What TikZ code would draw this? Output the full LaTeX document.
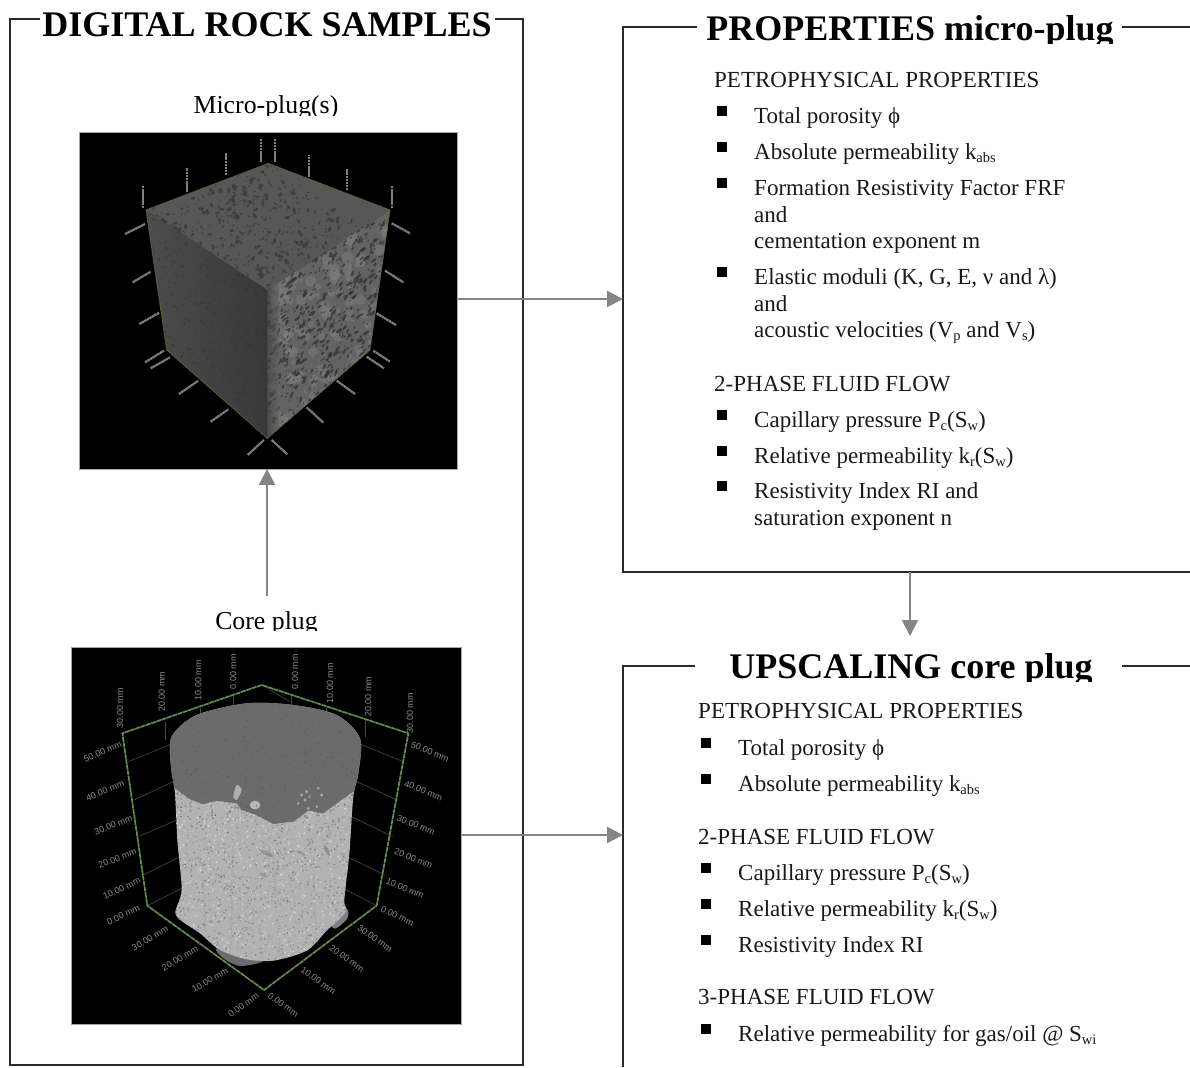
\documentclass[tikz,border=0pt]{standalone}
\usepackage{fontspec}
\setmainfont{Liberation Serif}
\newfontfamily\axfont{Liberation Sans}
\usetikzlibrary{arrows.meta}
\definecolor{framec}{HTML}{2A2A2A}
\definecolor{arrowc}{HTML}{858585}
\definecolor{boxgreen}{HTML}{6A8A50}
\newcommand{\sbs}[1]{\raisebox{-0.3ex}{\fontsize{14.5}{14.5}\selectfont #1}}
\tikzset{
  frame/.style={draw=framec,line width=1.7pt},
  flow/.style={draw=arrowc,line width=2pt,-{Triangle[length=16pt,width=16pt]}},
  imagebox/.style={rectangle,fill=black,draw=gray!70,line width=.5pt,inner sep=0pt,outer sep=0pt},
  maintitle/.style={anchor=base,inner sep=0pt,font=\fontsize{36}{36}\selectfont\bfseries},
  sidelabel/.style={anchor=base,inner sep=0pt,font=\fontsize{25.8}{25.8}\selectfont},
  txt/.style={anchor=base west,inner sep=0pt,yshift=-0.8pt,font=\fontsize{23}{23}\selectfont,text=black!90},
  bul/.style={rectangle,fill=black,minimum size=10pt,inner sep=0pt,outer sep=0pt},
  axlab/.style={inner sep=0pt,text=black!45,font=\axfont\fontsize{9}{9}\selectfont},
}
\begin{document}
\begin{tikzpicture}[x=1pt,y=-1pt]
\useasboundingbox (0,0) rectangle (1190,1067);
\fill[white] (0,0) rectangle (1190,1067);
\clip (0,0) rectangle (1190,1067);

% ---------- image frames
\node[imagebox,minimum width=378.7pt,minimum height=336.3pt] (micro) at (268.3,300.8) {};
\node[imagebox,minimum width=390pt,minimum height=377pt] (core) at (266.7,835.8) {};

% ---------- micro-plug cube (zoom coordinates)
\begin{scope}[shift={(60,120)},x=0.33333pt,y=-0.33333pt]
  \foreach \ax/\ay/\bx/\by in {
    250/265/250/198, 382/215/382/145, 498/165/498/98, 602/125/602/58, 645/125/645/58,
    748/170/748/105, 862/210/862/148, 995/265/995/198,
    195/342/255/312, 218/487/272/455, 238/612/298/578, 255/727/312/692, 272/745/330/712,
    357/822/415/782, 452/905/505/868, 563/1005/612/960,
    995/310/1050/340, 975/452/1030/487, 950/580/1008/615, 940/692/990/725, 920/710/972/745,
    830/782/885/822, 740/862/790/908, 635/960/682/1003}
    {\draw[draw=black!50,line width=2.2pt,dash pattern=on 2.4pt off .5pt] (\ax,\ay) -- (\bx,\by);}
  % faces
  \shade[left color=black!70,right color=black!78]
     (258,270) -- (622,510) -- (622,955) -- (320,690) -- cycle;
  \fill[black!66] (625,130) -- (990,270) -- (622,510) -- (258,270) -- cycle;
  \fill[black!61] (622,510) -- (990,270) -- (930,690) -- (622,955) -- cycle;
  \pgfmathsetseed{7}
  \begin{scope}
    \clip (625,130) -- (990,270) -- (622,510) -- (258,270) -- cycle;
    \foreach \i in {1,...,420}{
      \pgfmathsetmacro\u{rnd}\pgfmathsetmacro\v{rnd}
      \pgfmathsetmacro\rr{2+6*rnd*rnd}\pgfmathsetmacro\ang{rnd*180}
      \fill[black!80,opacity=.6] ({258+367*\u+364*\v},{270-140*\u+240*\v}) ellipse [x radius=\rr*1.5,y radius=\rr*.8,rotate=\ang];
    }
  \end{scope}
  \begin{scope}
    \clip (622,510) -- (990,270) -- (930,690) -- (622,955) -- cycle;
    \foreach \i in {1,...,130}{
      \pgfmathsetmacro\u{rnd}\pgfmathsetmacro\v{rnd}
      \pgfmathsetmacro\rr{6+12*rnd}
      \fill[black!50,opacity=.45] ({622+368*\u},{510-240*\u+445*\v}) circle [radius=\rr];
    }
    \foreach \i in {1,...,620}{
      \pgfmathsetmacro\u{rnd}\pgfmathsetmacro\v{rnd}
      \pgfmathsetmacro\rr{2+5*rnd*rnd}\pgfmathsetmacro\ang{25+50*rnd}
      \fill[black!80,opacity=.75] ({622+368*\u},{510-240*\u+445*\v}) ellipse [x radius=\rr*2,y radius=\rr*.8,rotate=\ang];
    }
    \shade[left color=black!75,right color=black!61,opacity=.6] (622,480) rectangle (655,960);
  \end{scope}
  \begin{scope}
    \clip (258,270) -- (622,510) -- (622,955) -- (320,690) -- cycle;
    \foreach \i in {1,...,260}{
      \pgfmathsetmacro\u{rnd}\pgfmathsetmacro\v{rnd}
      \pgfmathsetmacro\rr{1.5+3*rnd}
      \fill[black!82,opacity=.4] ({258+364*\u+62*\v},{270+240*\u+420*\v+25*\u*\v}) circle [radius=\rr];
    }
  \end{scope}
  \draw[boxgreen!80!black,line width=.9pt,dash pattern=on 1.3pt off .7pt]
    (625,130) -- (990,270) -- (930,690) -- (622,955) -- (320,690) -- (258,270) -- cycle;
\end{scope}

% ---------- core plug (zoom coordinates)
\begin{scope}[shift={(60,640)},x=0.33333pt,y=-0.33333pt]
  % back walls
  \foreach \ax/\ay/\bx/\by in {
    205/365/340/310, 222/480/340/425, 235/590/350/540, 250/705/360/650, 262/797/365/745,
    1030/365/895/310, 1012/480/890/425, 998/590/875/530, 975/705/860/650, 950/797/850/745,
    315/245/315/300, 420/205/420/240, 520/165/520/200, 695/165/695/200, 800/205/800/230, 915/240/915/290,
    605/135/690/185}
    {\draw[black!72,line width=.6pt] (\ax,\ay) -- (\bx,\by);}
  \draw[boxgreen,line width=1.7pt,dash pattern=on 5pt off .6pt]
    (605,135) -- (187,280) -- (262,797) -- (612,1050) -- (950,797) -- (1045,280) -- cycle;
  % feet
  \fill[black!58] plot[smooth cycle] coordinates {(470,925) (560,925) (610,962) (540,978) (490,955)};
  \fill[black!50] plot[smooth cycle] coordinates {(810,840) (860,808) (862,835) (825,866)};
  % body
  \def\bodypath{plot[smooth cycle,tension=.5] coordinates {(335,290) (410,225) (560,190) (700,195) (830,225) (900,295) (895,400) (880,470) (868,640) (853,780) (858,815) (800,872) (740,932) (640,962) (560,958) (480,930) (420,880) (348,825) (365,750) (352,600) (345,460) (333,380)}}
  \fill[black!30] \bodypath;
  \begin{scope}
    \clip \bodypath;
    \pgfmathsetseed{11}
    \foreach \i in {1,...,2800}{
      \pgfmathsetmacro\px{335+565*rnd}\pgfmathsetmacro\py{420+550*rnd}
      \pgfmathsetmacro\gr{int(14+38*rnd)}
      \fill[black!\gr] (\px,\py) circle [radius=2.8];
    }
    \foreach \ax/\ay/\bx/\by in {430/720/440/930, 520/600/510/950, 640/640/660/950, 760/700/770/930}
      {\draw[black!42,opacity=.2,line width=2pt] (\ax,\ay) -- (\bx,\by);}
    \fill[black!52,opacity=.6] (620,640) ellipse [x radius=22,y radius=6,rotate=-25];
    \fill[black!52,opacity=.6] (800,630) ellipse [x radius=18,y radius=6,rotate=-60];
    \fill[black!52,opacity=.45] (725,640) ellipse [x radius=14,y radius=4,rotate=-30];
    \fill[black!52,opacity=.45] (610,705) ellipse [x radius=14,y radius=4,rotate=-30];
    % dark upper part
    \fill[black!58] (320,170) -- (910,170) -- (910,450) -- (880,455) -- (830,490) -- (790,520) -- (745,512) -- (700,545) -- (640,552) -- (590,525) -- (545,510) -- (530,490) -- (470,482) -- (430,492) -- (390,478) -- (345,445) -- (320,440) -- cycle;
    \fill[black!32] plot[smooth cycle] coordinates {(530,435) (545,450) (530,480) (520,470)};
    \fill[black!28] (585,495) ellipse [x radius=16,y radius=13];
    \foreach \qx/\qy in {725/465,740/455,750/470,735/480,775/445,785/465,715/490,745/505,770/500}
      {\fill[black!35] (\qx,\qy) circle [radius=5];}
    \pgfmathsetseed{5}
    \foreach \i in {1,...,260}{
      \pgfmathsetmacro\px{335+565*rnd}\pgfmathsetmacro\py{190+340*rnd}
      \fill[black!66,opacity=.6] (\px,\py) circle [radius=2.6];
    }
  \end{scope}
  % axis labels
  \foreach \lx/\ly/\rot/\lab/\idx in {
    128/335/22/50.00 mm/a, 135/452/22/40.00 mm/b, 160/555/22/30.00 mm/c, 172/655/22/20.00 mm/d, 185/745/25/10.00 mm/e, 190/825/25/0.00 mm/f,
    1110/335/-22/50.00 mm/g, 1090/452/-22/40.00 mm/h, 1068/555/-22/30.00 mm/i, 1060/655/-22/20.00 mm/j, 1035/745/-22/10.00 mm/k, 1012/828/-25/0.00 mm/l,
    270/895/30/30.00 mm/m, 360/955/30/20.00 mm/n, 450/1020/30/10.00 mm/o, 550/1095/35/0.00 mm/p,
    670/1095/-35/0.00 mm/q, 775/1022/-35/10.00 mm/r, 860/955/-35/20.00 mm/s, 945/895/-35/30.00 mm/t,
    180/205/90/30.00 mm/u, 305/155/90/20.00 mm/v, 415/120/90/10.00 mm/w, 520/95/90/0.00 mm/x,
    705/95/90/0.00 mm/y, 810/130/90/10.00 mm/z, 925/170/90/20.00 mm/aa, 1050/220/90/30.00 mm/ab}
    {\node[axlab,rotate=\rot] (ax\idx) at (\lx,\ly) {\lab};}
\end{scope}

% ---------- left frame
\begin{scope}
  \clip (0,0) rectangle (1190,38);
  \node[maintitle] (digital) at (267,37) {DIGITAL ROCK SAMPLES};
\end{scope}
\coordinate (dtl) at (10,19);
\coordinate (dtr) at (523,19);
\coordinate (dbl) at (10,1065);
\coordinate (dbr) at (523,1065);
\draw[frame] (40,19) -- (dtl) -- (dbl) -- (dbr) -- (dtr) -- (495,19);

\begin{scope}
  \clip (0,90) rectangle (600,116);
  \node[sidelabel] (mlabel) at (266,114) {Micro-plug(s)};
\end{scope}
\begin{scope}
  \clip (0,600) rectangle (600,630);
  \node[sidelabel] (clabel) at (266.5,629) {Core plug};
\end{scope}

% ---------- properties frame
\begin{scope}
  \clip (600,0) rectangle (1190,44);
  \node[maintitle] (prop) at (910,41) {PROPERTIES micro-plug};
\end{scope}
\coordinate (ptl) at (623,27);
\coordinate (pbl) at (623,572);
\coordinate (pbr) at (1190,572);
\coordinate (ptr) at (1190,27);
\coordinate (pin) at (623,299);
\coordinate (pbot) at (910,572);
\draw[frame] (697,27) -- (ptl) -- (pbl) -- (pbr);
\draw[frame] (1122,27) -- (ptr);

% ---------- upscaling frame
\begin{scope}
  \clip (600,640) rectangle (1190,681);
  \node[maintitle] (upsc) at (911,678) {UPSCALING core plug};
\end{scope}
\coordinate (utl) at (623,666);
\coordinate (ubl) at (623,1067);
\coordinate (utr) at (1190,666);
\coordinate (uin) at (623,835);
\coordinate (utop) at (910,636);
\draw[frame] (695,666) -- (utl) -- (ubl);
\draw[frame] (1122,666) -- (utr);

% ---------- connectors
\coordinate (m1) at (458,299);
\coordinate (c1) at (462,835);
\coordinate (c2) at (267,596);
\draw[flow] (m1) -- (pin);
\draw[flow] (c1) -- (uin);
\draw[flow] (c2) -- (micro.south -| c2);
\draw[flow] (pbot) -- (utop);

% ---------- properties text
\node[txt] (p0) at (714,87) {PETROPHYSICAL PROPERTIES};
\node[bul] (pb1) at (721.5,111) {};
\node[txt] (p1) at (754,123) {Total porosity ϕ};
\node[bul] (pb2) at (721.5,147) {};
\node[txt] (p2) at (754,159) {Absolute permeability k\sbs{abs}};
\node[bul] (pb3) at (721.5,183) {};
\node[txt] (p3) at (754,195) {Formation Resistivity Factor FRF};
\node[txt] (p3b) at (754,222) {and};
\node[txt] (p3c) at (754,248) {cementation exponent m};
\node[bul] (pb4) at (721.5,272) {};
\node[txt] (p4) at (754,284) {Elastic moduli (K, G, E, ν and λ)};
\node[txt] (p4b) at (754,311) {and};
\node[txt] (p4c) at (754,337) {acoustic velocities (V\sbs{p} and V\sbs{s})};
\node[txt] (p5) at (714,391) {2-PHASE FLUID FLOW};
\node[bul] (pb6) at (721.5,415) {};
\node[txt] (p6) at (754,427) {Capillary pressure P\sbs{c}(S\sbs{w})};
\node[bul] (pb7) at (721.5,451) {};
\node[txt] (p7) at (754,463) {Relative permeability k\sbs{r}(S\sbs{w})};
\node[bul] (pb8) at (721.5,486) {};
\node[txt] (p8) at (754,498) {Resistivity Index RI and};
\node[txt] (p8b) at (754,525) {saturation exponent n};

% ---------- upscaling text
\node[txt] (u0) at (698,718) {PETROPHYSICAL PROPERTIES};
\node[bul] (ub1) at (705.5,743) {};
\node[txt] (u1) at (738,755) {Total porosity ϕ};
\node[bul] (ub2) at (705.5,779) {};
\node[txt] (u2) at (738,791) {Absolute permeability k\sbs{abs}};
\node[txt] (u3) at (698,844) {2-PHASE FLUID FLOW};
\node[bul] (ub4) at (705.5,868) {};
\node[txt] (u4) at (738,880) {Capillary pressure P\sbs{c}(S\sbs{w})};
\node[bul] (ub5) at (705.5,904) {};
\node[txt] (u5) at (738,916) {Relative permeability k\sbs{r}(S\sbs{w})};
\node[bul] (ub6) at (705.5,940) {};
\node[txt] (u6) at (738,952) {Resistivity Index RI};
\node[txt] (u7) at (698,1004) {3-PHASE FLUID FLOW};
\node[bul] (ub8) at (705.5,1029) {};
\node[txt] (u8) at (738,1041) {Relative permeability for gas/oil @ S\sbs{wi}};
\end{tikzpicture}
\end{document}
